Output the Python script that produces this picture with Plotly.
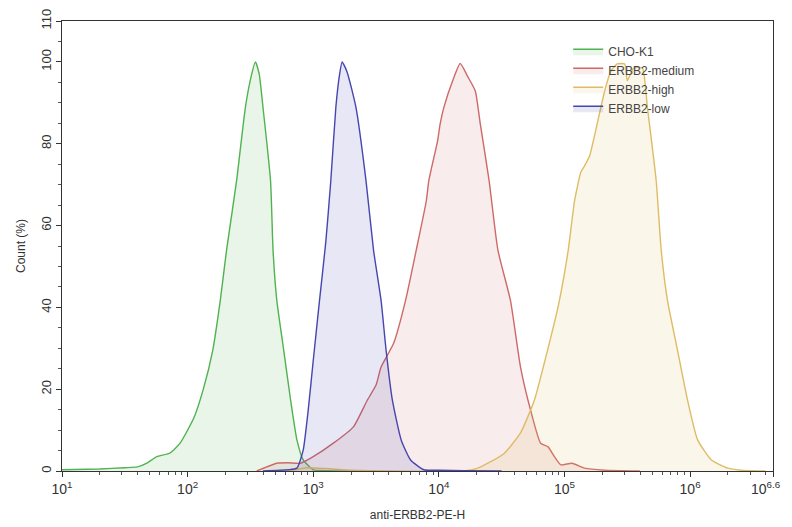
import numpy as np
import plotly.graph_objects as go

# log10 intensity (anti-ERBB2-PE-H) and Count (%) for each population
cho_log = [1.0, 1.3, 1.5, 1.6, 1.68, 1.755, 1.86, 1.94, 2.05, 2.125, 2.2, 2.26, 2.31, 2.39, 2.46, 2.51, 2.54,
           2.57, 2.6, 2.66, 2.68, 2.71, 2.765, 2.82, 2.87, 2.92, 3.0, 3.1, 3.5]
cho_cnt = [0.3, 0.5, 0.8, 1.0, 2.0, 3.5, 4.4, 6.8, 13, 20, 29.5, 41.7, 54, 71, 88.9, 97, 100,
           97, 88.9, 71, 54, 41.7, 29.5, 17.3, 7.6, 2.7, 0.3, 0.1, 0]

med_log = [2.55, 2.63, 2.71, 2.8, 2.9, 3.0, 3.16, 3.32, 3.43, 3.5, 3.54, 3.64, 3.735, 3.82, 3.9, 3.92, 3.99,
           4.01, 4.04, 4.11, 4.17, 4.23, 4.29, 4.33, 4.40, 4.47, 4.57, 4.65, 4.73, 4.81, 4.87, 4.92, 4.97,
           5.06, 5.16, 5.32, 5.6]
med_cnt = [0, 1.0, 1.9, 2.0, 1.9, 3.5, 6.8, 10.8, 17.3, 21, 25.4, 31.2, 41.7, 54, 66, 71, 80.7,
           84.8, 88.9, 95.4, 99.6, 96.4, 92.9, 84.8, 71, 54, 41.7, 25.4, 14.9, 6.8, 5.9, 3.5, 1.5,
           1.9, 0.7, 0.2, 0]

high_log = [2.8, 2.95, 3.1, 3.3, 3.6, 4.2, 4.31, 4.39, 4.52, 4.65, 4.76, 4.865, 4.955, 5.03, 5.08, 5.13, 5.16,
            5.2, 5.26, 5.32, 5.37, 5.42, 5.48, 5.50, 5.55, 5.62, 5.66, 5.73, 5.77, 5.82, 5.90, 5.98, 6.06,
            6.17, 6.30, 6.4, 6.6]
high_cnt = [0, 0.8, 0.6, 0.2, 0, 0, 0.7, 1.9, 4.3, 9.3, 17.3, 29.5, 41, 54, 66, 73, 74.6,
            77, 84.8, 92.9, 97.8, 99.5, 99.5, 95.4, 98.5, 98.5, 88.9, 71, 54, 41.7, 29.5, 17.3, 7.6,
            2.7, 0.7, 0.2, 0]

low_log = [2.6, 2.8, 2.87, 2.92, 2.96, 3.0, 3.05, 3.1, 3.14, 3.18, 3.21, 3.23, 3.27, 3.34, 3.42, 3.48, 3.54,
           3.58, 3.63, 3.70, 3.775, 3.88, 4.0, 4.2, 4.5]
low_cnt = [0, 0.3, 0.7, 5.1, 14.9, 27, 41.7, 56, 71, 88.9, 97, 100, 97.5, 88.9, 71, 54, 41.7,
           29.5, 17.3, 7.6, 2.7, 0.3, 0.2, 0.1, 0]

series_names = ["CHO-K1", "ERBB2-medium", "ERBB2-high", "ERBB2-low"]
x_tick_exps = [1, 2, 3, 4, 5, 6]
x_end_exp = 6.66
x_end_label = "6.6"
y_ticks = [0, 20, 40, 60, 80, 100, 110]

series = [(cho_log, cho_cnt), (med_log, med_cnt), (high_log, high_cnt), (low_log, low_cnt)]
line_colors = ["rgb(80,178,80)", "rgb(205,105,105)", "rgb(222,188,100)", "rgb(70,70,175)"]
fill_colors = ["rgba(80,178,80,0.13)", "rgba(205,105,105,0.13)", "rgba(222,188,100,0.14)", "rgba(70,70,175,0.13)"]

fig = go.Figure()
for name, (lx, cy), lc, fc in zip(series_names, series, line_colors, fill_colors):
    fig.add_trace(go.Scatter(
        x=10 ** np.array(lx), y=cy, name=name, mode="lines",
        line=dict(color=lc, width=1.4, shape="spline", smoothing=0.5),
        fill="tozeroy", fillcolor=fc,
    ))

tickvals = [10.0 ** e for e in x_tick_exps] + [10 ** x_end_exp]
ticktext = ["10<sup>%d</sup>" % e for e in x_tick_exps] + [""]
minor_vals = [m * 10.0 ** e for e in range(1, 7) for m in range(2, 10) if m * 10.0 ** e < 10 ** x_end_exp]

fam = "Liberation Sans, Arial, sans-serif"

# page body adds an 8px offset, so the figure is 784x519 with margins shifted accordingly
fig.update_layout(
    width=784, height=519,
    margin=dict(l=54, r=19, t=13, b=56, autoexpand=False),
    paper_bgcolor="white", plot_bgcolor="white",
    font=dict(family=fam, color="#444"),
    showlegend=True,
    legend=dict(x=0.712, y=0.965, xanchor="left", yanchor="top", bgcolor="rgba(0,0,0,0)",
                font=dict(size=12, color="#444"), itemwidth=30, tracegroupgap=0),
    xaxis=dict(
        type="log", range=[1, x_end_exp], showgrid=False, zeroline=False, automargin=False,
        showline=True, linecolor="#333", linewidth=1, mirror=True,
        ticks="outside", ticklen=5, tickcolor="#333",
        tickmode="array", tickvals=tickvals, ticktext=ticktext,
        tickfont=dict(family=fam, size=14, color="#333"),
        minor=dict(tickmode="array", tickvals=minor_vals, ticks="outside", ticklen=3, tickcolor="#555"),
        title=dict(text="anti-ERBB2-PE-H", font=dict(size=12, color="#333"), standoff=14),
    ),
    yaxis=dict(
        range=[0, 110], showgrid=False, zeroline=False, automargin=False,
        showline=True, linecolor="#333", linewidth=1, mirror=True,
        ticks="outside", ticklen=5, tickcolor="#333",
        tickmode="array", tickvals=y_ticks, tickangle=-90,
        tickfont=dict(family=fam, size=13, color="#333"),
        minor=dict(dtick=5, ticks="outside", ticklen=3, tickcolor="#555"),
        title=dict(text="Count (%)", font=dict(size=12, color="#333"), standoff=10),
    ),
    annotations=[dict(
        text="10<sup>%s</sup>" % x_end_label, xref="paper", yref="paper", x=1.0, y=0,
        xanchor="right", yanchor="top", xshift=10, yshift=-6, showarrow=False,
        font=dict(family=fam, size=14, color="#333"),
    )],
)

fig.write_html("out.html")
